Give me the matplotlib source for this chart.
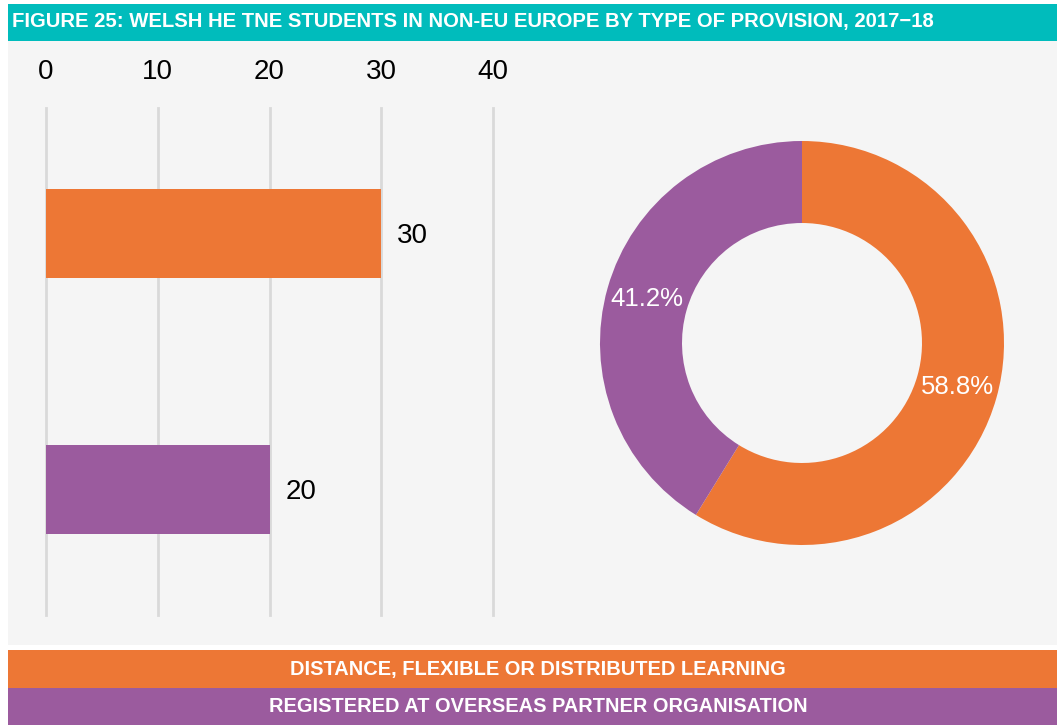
import matplotlib.pyplot as plt
from matplotlib.patches import Rectangle

# data
categories = ["Distance, flexible or distributed learning", "Registered at overseas partner organisation"]
students = [30, 20]
shares = [58.8, 41.2]
ticks = [0, 10, 20, 30, 40]

orange = "#ED7735"
purple = "#9B5B9E"
teal = "#00BCBC"
panel = "#F5F5F5"
colours = [orange, purple]

W, H = 1057, 725
fig = plt.figure(figsize=(W / 100, H / 100), dpi=100)
fig.patch.set_facecolor("white")

def box(x0, y0, x1, y1):
    # pixel box (top-left origin) -> figure fraction rect
    return [x0 / W, 1 - y1 / H, (x1 - x0) / W, (y1 - y0) / H]

head = ["Liberation Sans Narrow", "Liberation Sans", "DejaVu Sans"]
body = ["Liberation Sans", "DejaVu Sans"]

# background blocks
for (x0, y0, x1, y1), c in [((8, 4, W, 41), teal), ((8, 41, W, 645), panel),
                            ((8, 650, W, 688), orange), ((8, 688, W, H), purple)]:
    r = box(x0, y0, x1, y1)
    fig.patches.append(Rectangle((r[0], r[1]), r[2], r[3], transform=fig.transFigure,
                                 facecolor=c, edgecolor="none", zorder=-5))

fig.text(12 / W, 1 - 22 / H, "FIGURE 25: WELSH HE TNE STUDENTS IN NON-EU EUROPE BY TYPE OF PROVISION, 2017\u221218",
         color="white", fontsize=14.6, fontweight="bold", family=head, va="center", ha="left")
fig.text(538 / W, 1 - 669 / H, categories[0].upper(), color="white", fontsize=14.4,
         fontweight="bold", family=head, va="center", ha="center")
fig.text(538 / W, 1 - 707 / H, categories[1].upper(), color="white", fontsize=14.4,
         fontweight="bold", family=head, va="center", ha="center")

# bar chart
ax = fig.add_axes(box(46, 108, 493, 615))
ax.set_facecolor("none")
y = list(range(len(students)))
ax.barh(y, students, height=0.35, color=colours, zorder=2)
ax.set_xlim(0, 40)
ax.set_ylim(1.49, -0.49)
ax.set_xticks(ticks)
ax.xaxis.grid(True, color="#D9D9D9", linewidth=2, zorder=0)
for gl in ax.get_xgridlines():
    gl.set_clip_on(False)
ax.tick_params(axis="x", top=False, bottom=False, labeltop=True, labelbottom=False,
               labelsize=20, pad=13, colors="black")
ax.set_yticks([])
for s in ax.spines.values():
    s.set_visible(False)
for yi, v in zip(y, students):
    ax.text(v + 1.4, yi + 0.01, str(v), va="center", ha="left", fontsize=20, family=body)
for lab in ax.get_xticklabels():
    lab.set_family(body)

# donut
ax2 = fig.add_axes(box(600, 141, 1004, 545))
ax2.set_facecolor("none")
wedges, texts, autotexts = ax2.pie(shares, colors=colours, startangle=90, counterclock=False,
                                   radius=1, wedgeprops=dict(width=0.406, edgecolor="none"),
                                   autopct="%.1f%%", pctdistance=0.8,
                                   textprops=dict(color="white", fontsize=18.5, family=body))
ax2.set_xlim(-1, 1)
ax2.set_ylim(-1, 1)
ax2.set_aspect("equal")

fig.savefig("out.png", dpi=100, facecolor=fig.get_facecolor())
